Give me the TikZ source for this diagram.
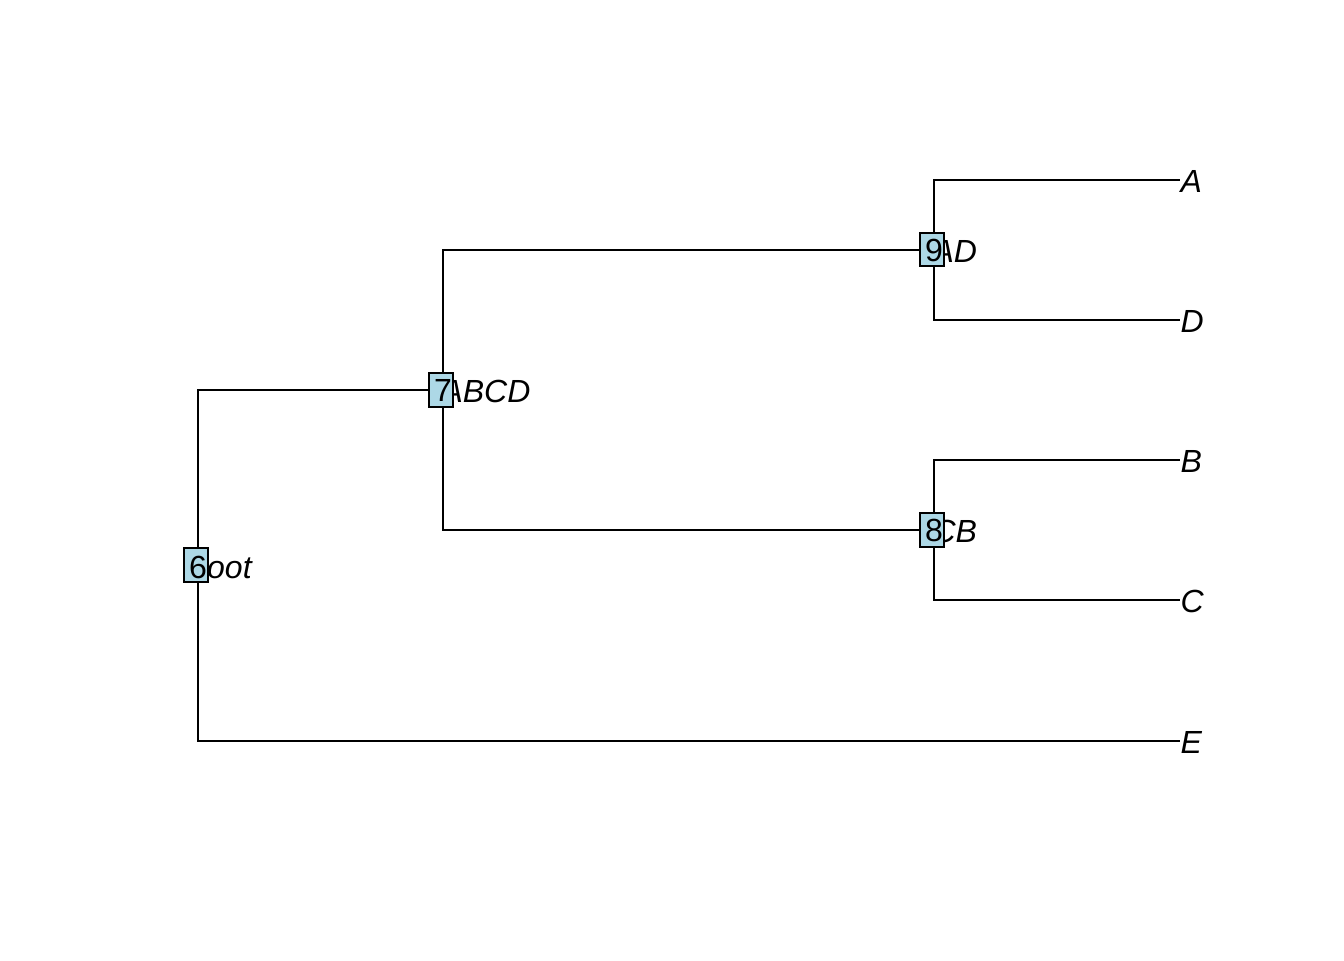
\documentclass[tikz,border=0pt]{standalone}
\usepackage{fontspec}
\setmainfont{Liberation Sans}
\begin{document}
\begin{tikzpicture}[x=0.375pt,y=-0.375pt,
  edge/.style={draw=black,line width=0.75pt},
  lab/.style={inner sep=0pt,anchor=base west,font=\fontsize{12}{13}\selectfont\itshape},
  numbox/.style={draw=black,line width=0.75pt,fill=lightblue,minimum width=9pt,minimum height=12.4pt,inner sep=0pt},
  numtext/.style={inner sep=0pt,font=\fontsize{12}{13}\selectfont}]
\definecolor{lightblue}{HTML}{ADD8E6}
\useasboundingbox (0,0) rectangle (1344,960);
% tree points
\coordinate (c6) at (198,566);
\coordinate (c7) at (443,390);
\coordinate (c9) at (934,250);
\coordinate (c8) at (934,530);
\coordinate (tA) at (1180,180);
\coordinate (tD) at (1180,320);
\coordinate (tB) at (1180,460);
\coordinate (tC) at (1180,600);
\coordinate (tE) at (1180,741);
% edges
\draw[edge] (c6) |- (c7);
\draw[edge] (c6) |- (tE);
\draw[edge] (c7) |- (c9);
\draw[edge] (c7) |- (c8);
\draw[edge] (c9) |- (tA);
\draw[edge] (c9) |- (tD);
\draw[edge] (c8) |- (tB);
\draw[edge] (c8) |- (tC);
% tip labels
\node[lab] (lA) at (1180,192) {A};
\node[lab] (lD) at (1180,332) {D};
\node[lab] (lB) at (1180,472) {B};
\node[lab] (lC) at (1180,612) {C};
\node[lab] (lE) at (1180,753) {E};
% node labels
\node[lab] (l6) at (196,578) {root};
\node[lab] (l7) at (441,402) {ABCD};
\node[lab] (l9) at (932,262) {AD};
\node[lab] (l8) at (932,542) {CB};
% node number boxes
\node[numbox] (b6) at (195.7,565) {};
\node[numbox] (b7) at (440.5,390) {};
\node[numbox] (b9) at (931.5,249.5) {};
\node[numbox] (b8) at (931.5,530) {};
\node[numtext] (n6) at (198,567) {6};
\node[numtext] (n7) at (443,390) {7};
\node[numtext] (n9) at (934,250) {9};
\node[numtext] (n8) at (934,530) {8};
\end{tikzpicture}
\end{document}
